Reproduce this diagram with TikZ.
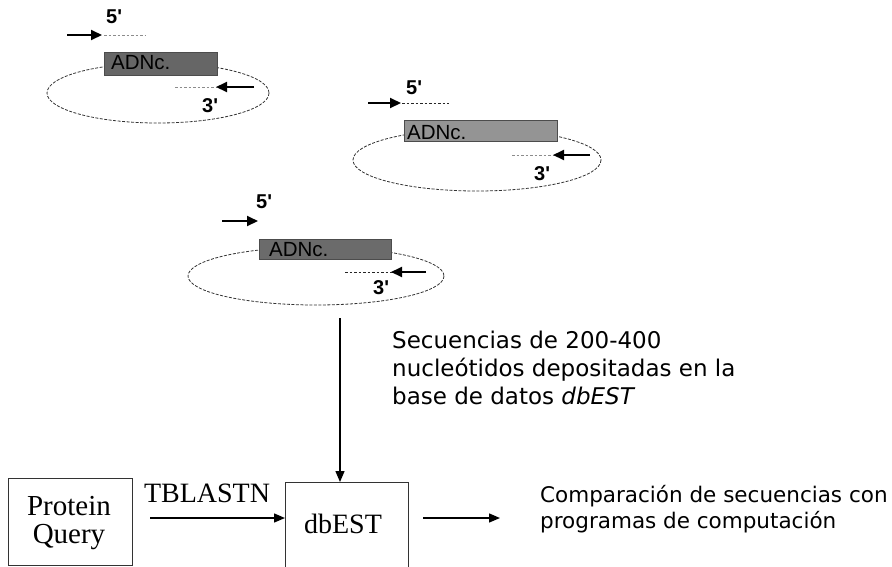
\documentclass[tikz,border=0pt]{standalone}
\usepackage{fontspec}
\setmainfont{Liberation Serif}
\newfontfamily\lblfont{Liberation Sans}
\newfontfamily\txtfont{DejaVu Sans}
\usetikzlibrary{arrows.meta}
\begin{document}
\begin{tikzpicture}[x=1pt,y=-1pt,
  plas/.style={draw=black!80, line width=0.8pt, dash pattern=on 3pt off 1.5pt},
  cdna/.style={draw=black!70, line width=0.8pt, anchor=north west, inner sep=0pt},
  prim/.style={line width=2pt, -{Triangle[length=11pt,width=10pt]}},
  dotl/.style={draw=black!45, line width=1pt, dash pattern=on 2.5pt off 2pt},
  dotd/.style={draw=black!85, line width=0.9pt, dash pattern=on 2.5pt off 2pt},
  lbl/.style={font=\lblfont\bfseries\fontsize{20}{20}\selectfont, inner sep=0pt, anchor=base west},
  cdtxt/.style={font=\lblfont\fontsize{20.5}{20}\selectfont, inner sep=0pt, anchor=base west},
  stxt/.style={font=\txtfont\fontsize{23}{28}\selectfont, inner sep=0pt, anchor=base west},
  ctxt/.style={font=\txtfont\fontsize{21.5}{26}\selectfont, inner sep=0pt, anchor=base west},
  sbox/.style={draw=black!80, line width=0.9pt, anchor=north west},
  serif/.style={font=\fontsize{29}{29}\selectfont, inner sep=0pt, anchor=base},
  flow/.style={line width=1.4pt, -{Triangle[length=11pt,width=9pt]}}]
\useasboundingbox (0,0) rectangle (892,566);
% plasmid 1
\draw[plas] (158,93) ellipse [x radius=111, y radius=30];
\node[cdna, fill=black!60, minimum width=113pt, minimum height=23pt] (b1) at (104,52) {};
\node[cdtxt] (t1) at (111,69) {ADNc.};
\node[lbl] (f1) at (106,23) {5'};
\coordinate (a1s) at (67,35); \coordinate (a1e) at (102,35);
\draw[prim] (a1s) -- (a1e);
\coordinate (d1s) at (104,35); \coordinate (d1e) at (145,35);
\draw[dotl] (d1s) -- (d1e);
\coordinate (d2s) at (175,87); \coordinate (d2e) at (216,87);
\draw[dotl] (d2s) -- (d2e);
\coordinate (a2s) at (254,87); \coordinate (a2e) at (216,87);
\draw[prim] (a2s) -- (a2e);
\node[lbl] (r1) at (202,112) {3'};
% plasmid 2
\draw[plas] (477,160) ellipse [x radius=124, y radius=31];
\node[cdna, fill=black!42, minimum width=153pt, minimum height=21pt] (b2) at (404,120) {};
\node[cdtxt] (t2) at (407,139) {ADNc.};
\node[lbl] (f2) at (406,94) {5'};
\coordinate (a3s) at (368,103); \coordinate (a3e) at (401,103);
\draw[prim] (a3s) -- (a3e);
\coordinate (d3s) at (402,103); \coordinate (d3e) at (449,103);
\draw[dotd] (d3s) -- (d3e);
\coordinate (d4s) at (512,155); \coordinate (d4e) at (556,155);
\draw[dotl] (d4s) -- (d4e);
\coordinate (a4s) at (590,155); \coordinate (a4e) at (553,155);
\draw[prim] (a4s) -- (a4e);
\node[lbl] (r2) at (534,180) {3'};
% plasmid 3
\draw[plas] (316,276) ellipse [x radius=128, y radius=29];
\node[cdna, fill=black!58, minimum width=132pt, minimum height=20pt] (b3) at (259,239) {};
\node[cdtxt] (t3) at (269,256) {ADNc.};
\node[lbl] (f3) at (256,208) {5'};
\coordinate (a5s) at (222,221); \coordinate (a5e) at (258,221);
\draw[prim] (a5s) -- (a5e);
\coordinate (d6s) at (345,272); \coordinate (d6e) at (395,272);
\draw[dotd] (d6s) -- (d6e);
\coordinate (a6s) at (426,272); \coordinate (a6e) at (391,272);
\draw[prim] (a6s) -- (a6e);
\node[lbl] (r3) at (373,294) {3'};
% description
\node[stxt] (desc1) at (392,348) {Secuencias de 200-400};
\node[stxt] (desc2) at (392,376) {nucleótidos depositadas en la};
\node[stxt] (desc3) at (392,404) {base de datos \textit{dbEST}};
% bottom row
\node[sbox, minimum width=124pt, minimum height=87pt] (pq) at (8,478) {};
\node[serif] (pqt1) at (69,515) {Protein};
\node[serif] (pqt2) at (69,543) {Query};
\node[sbox, minimum width=123pt, minimum height=86pt] (db) at (285,482) {};
\node[serif, font=\fontsize{28}{29}\selectfont] (dbt) at (343,533) {dbEST};
\node[serif, font=\fontsize{28}{29}\selectfont] (tbl) at (207,502) {TBLASTN};
\coordinate (top) at (340,318);
\draw[flow] (top) -- (db.north -| top);
\coordinate (tin) at (150,518);
\draw[flow] (tin) -- (db.west |- tin);
\coordinate (oin) at (423,518);
\coordinate (out) at (500,518);
\draw[flow] (oin) -- (out);
\node[ctxt] (cmp1) at (540,502) {Comparación de secuencias con};
\node[ctxt] (cmp2) at (540,528) {programas de computación};
\end{tikzpicture}
\end{document}
